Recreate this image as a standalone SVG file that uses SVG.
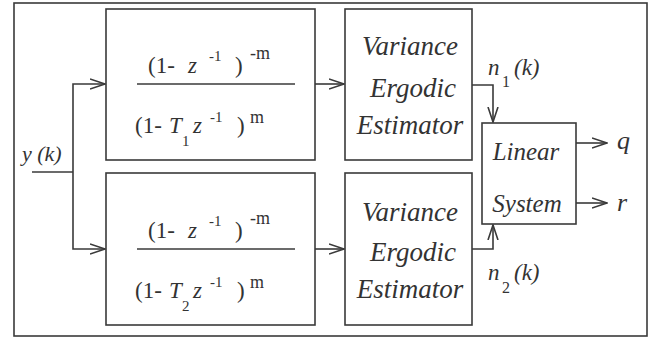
<svg xmlns="http://www.w3.org/2000/svg" width="658" height="340" viewBox="0 0 658 340">
<style>
.box{fill:none;stroke:#3a3a3a;stroke-width:1.6}
.ln{fill:none;stroke:#3a3a3a;stroke-width:1.6}
text{font-family:"Liberation Serif",serif;fill:#333333}
.it{font-style:italic}
.lbl{font-style:italic;font-size:27px;text-anchor:middle}
.ls{font-style:italic;font-size:25px;text-anchor:middle}
</style>
<defs>
<marker id="ah" viewBox="0 0 16 12" refX="15" refY="6" markerWidth="16" markerHeight="12" markerUnits="userSpaceOnUse" orient="auto">
<path d="M0,1 L15,6 L0,11" fill="none" stroke="#3a3a3a" stroke-width="1.6"/>
</marker>
</defs>
<rect width="658" height="340" fill="#ffffff"/>
<rect id="frame" class="box" x="14" y="3" width="633" height="333"/>

<g id="connectors">
<path class="ln" d="M32,172 H73"/>
<path class="ln" d="M73,172 V84 H105" marker-end="url(#ah)"/>
<path class="ln" d="M73,172 V249 H105" marker-end="url(#ah)"/>
<path class="ln" d="M315,84 H344" marker-end="url(#ah)"/>
<path class="ln" d="M315,249 H344" marker-end="url(#ah)"/>
<path class="ln" d="M472,85 H493 V122" marker-end="url(#ah)"/>
<path class="ln" d="M472,249 H493 V225" marker-end="url(#ah)"/>
<path class="ln" d="M576,143 H607" marker-end="url(#ah)"/>
<path class="ln" d="M576,203 H607" marker-end="url(#ah)"/>
</g>

<g id="input">
<text class="it" x="22" y="161" font-size="22">y (k)</text>
</g>

<g id="filter1">
<rect class="box" x="106" y="9" width="209" height="151"/>
<path class="ln" d="M137,84 H295"/>
<text x="148" y="73" font-size="23">(1-</text>
<text class="it" x="188" y="73" font-size="23">z</text>
<text x="209" y="61" font-size="15">-1</text>
<text x="235" y="73" font-size="23">)</text>
<text x="250" y="59" font-size="18">-m</text>
<text x="135" y="133" font-size="23">(1-</text>
<text class="it" x="169" y="133" font-size="23">T</text>
<text x="182" y="146" font-size="15">1</text>
<text class="it" x="193" y="133" font-size="23">z</text>
<text x="210" y="122" font-size="15">-1</text>
<text x="237" y="133" font-size="23">)</text>
<text x="250" y="123" font-size="18">m</text>
</g>

<g id="filter2">
<rect class="box" x="106" y="173" width="209" height="152"/>
<path class="ln" d="M137,249 H295"/>
<text x="148" y="238" font-size="23">(1-</text>
<text class="it" x="188" y="238" font-size="23">z</text>
<text x="209" y="226" font-size="15">-1</text>
<text x="235" y="238" font-size="23">)</text>
<text x="250" y="224" font-size="18">-m</text>
<text x="135" y="298" font-size="23">(1-</text>
<text class="it" x="169" y="298" font-size="23">T</text>
<text x="182" y="311" font-size="15">2</text>
<text class="it" x="193" y="298" font-size="23">z</text>
<text x="210" y="287" font-size="15">-1</text>
<text x="237" y="298" font-size="23">)</text>
<text x="250" y="288" font-size="18">m</text>
</g>

<g id="estimator1">
<rect class="box" x="345" y="9" width="127" height="151"/>
<text class="lbl" x="410" y="55">Variance</text>
<text class="lbl" x="413" y="97">Ergodic</text>
<text class="lbl" x="410" y="134">Estimator</text>
</g>

<g id="estimator2">
<rect class="box" x="345" y="173" width="127" height="152"/>
<text class="lbl" x="410" y="221">Variance</text>
<text class="lbl" x="413" y="261">Ergodic</text>
<text class="lbl" x="410" y="298">Estimator</text>
</g>

<g id="linear">
<rect class="box" x="482" y="123" width="94" height="101"/>
<text class="ls" x="526" y="160">Linear</text>
<text class="ls" x="527" y="212">System</text>
</g>

<g id="labels">
<text class="it" x="488" y="75" font-size="23">n</text>
<text x="502" y="87" font-size="16">1</text>
<text class="it" x="514" y="75" font-size="23">(k)</text>
<text class="it" x="488" y="280" font-size="23">n</text>
<text x="502" y="293" font-size="16">2</text>
<text class="it" x="514" y="280" font-size="23">(k)</text>
<text class="it" x="617" y="149" font-size="26">q</text>
<text class="it" x="617" y="211" font-size="26">r</text>
</g>
</svg>
